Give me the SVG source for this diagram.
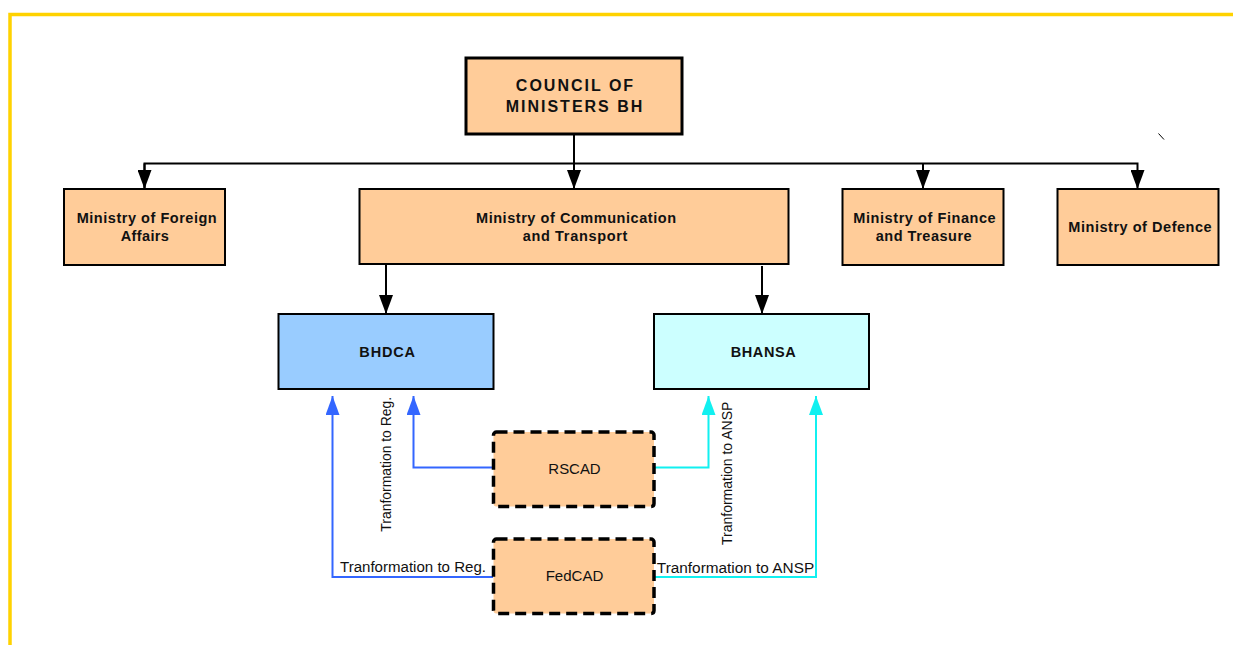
<svg xmlns="http://www.w3.org/2000/svg" width="1233" height="645" viewBox="0 0 1233 645">
<style>
.box{fill:#FFCC99;stroke:#000;stroke-width:2}
.dash{fill:#FFCC99;stroke:#000;stroke-width:3.5;stroke-dasharray:11 6}
.b{font-family:"Liberation Sans",Arial,sans-serif;font-weight:bold;font-size:14.5px;fill:#111;text-anchor:middle}
.r{font-family:"Liberation Sans",Arial,sans-serif;font-size:14px;fill:#111;text-anchor:middle}
.blk{fill:none;stroke:#000;stroke-width:2}
.blu{fill:none;stroke:#3366FF;stroke-width:2}
.cyn{fill:none;stroke:#11F0F0;stroke-width:2}
</style>
<defs>
<marker id="ak" markerUnits="userSpaceOnUse" markerWidth="19" markerHeight="14" refX="19" refY="7" orient="auto"><path d="M0,0 L19,7 L0,14 z" fill="#000"/></marker>
<marker id="ab" markerUnits="userSpaceOnUse" markerWidth="19" markerHeight="14" refX="19" refY="7" orient="auto"><path d="M0,0 L19,7 L0,14 z" fill="#3366FF"/></marker>
<marker id="ac" markerUnits="userSpaceOnUse" markerWidth="19" markerHeight="14" refX="19" refY="7" orient="auto"><path d="M0,0 L19,7 L0,14 z" fill="#11F0F0"/></marker>
</defs>
<rect width="1233" height="645" fill="#fff"/>
<path d="M10,645 V14.5 H1233" fill="none" stroke="#FFD200" stroke-width="3.5"/>
<line x1="1158.5" y1="133.5" x2="1164" y2="139.5" stroke="#000" stroke-width="1"/>

<g id="connectors">
<path class="blk" d="M574,134 V189" marker-end="url(#ak)"/>
<path class="blk" d="M144.5,189 V163.5 H1137.5 V189" marker-end="url(#ak)"/>
<path class="blk" d="M144.5,163.5 V189" marker-end="url(#ak)"/>
<path class="blk" d="M923,163.5 V189" marker-end="url(#ak)"/>
<path class="blk" d="M386,264 V314" marker-end="url(#ak)"/>
<path class="blk" d="M762,266 V314" marker-end="url(#ak)"/>
<path class="blu" d="M493,577 H332.5 V396" marker-end="url(#ab)"/>
<path class="blu" d="M493,467.5 H413.5 V396" marker-end="url(#ab)"/>
<path class="cyn" d="M654,467.5 H708.5 V396" marker-end="url(#ac)"/>
<path class="cyn" d="M654,577 H816 V396" marker-end="url(#ac)"/>
<text class="r" transform="translate(390.5,464.3) rotate(-90)" textLength="134.7" lengthAdjust="spacingAndGlyphs">Tranformation to Reg.</text>
<text class="r" transform="translate(731.5,473.3) rotate(-90)" textLength="143.3" lengthAdjust="spacingAndGlyphs">Tranformation to ANSP</text>
<text class="r" x="413" y="572" textLength="146" lengthAdjust="spacingAndGlyphs">Tranformation to Reg.</text>
<text class="r" x="735.5" y="572.5" textLength="157.3" lengthAdjust="spacingAndGlyphs">Tranformation to ANSP</text>
</g>

<g id="council">
<rect x="466" y="58" width="216" height="76" fill="#FFCC99" stroke="#000" stroke-width="3"/>
<text class="b" x="574.5" y="91" style="font-size:16px" textLength="117.3" lengthAdjust="spacing">COUNCIL OF</text>
<text class="b" x="574" y="112" style="font-size:16px" textLength="136.7" lengthAdjust="spacing">MINISTERS BH</text>
</g>

<g id="foreign">
<rect class="box" x="64" y="189" width="161" height="76"/>
<text class="b" x="146.7" y="223" textLength="140" lengthAdjust="spacing">Ministry of Foreign</text>
<text class="b" x="144.8" y="240.5" textLength="48.3" lengthAdjust="spacing">Affairs</text>
</g>

<g id="mct">
<rect class="box" x="359.5" y="189" width="429" height="75"/>
<text class="b" x="576" y="223" textLength="200" lengthAdjust="spacing">Ministry of Communication</text>
<text class="b" x="575" y="240.5" textLength="104.7" lengthAdjust="spacing">and Transport</text>
</g>

<g id="finance">
<rect class="box" x="842.5" y="189" width="161" height="76"/>
<text class="b" x="924.5" y="223" textLength="142.3" lengthAdjust="spacing">Ministry of Finance</text>
<text class="b" x="923.7" y="240.5" textLength="96" lengthAdjust="spacing">and Treasure</text>
</g>

<g id="defence">
<rect class="box" x="1057.5" y="189" width="161" height="76"/>
<text class="b" x="1140" y="231.5" textLength="143.3" lengthAdjust="spacing">Ministry of Defence</text>
</g>

<g id="bhdca">
<rect x="278.5" y="314" width="215" height="75" fill="#99CCFF" stroke="#000" stroke-width="2"/>
<text class="b" x="387.2" y="356.5" textLength="55.7" lengthAdjust="spacing">BHDCA</text>
</g>

<g id="bhansa">
<rect x="654" y="314" width="215" height="75" fill="#CCFFFF" stroke="#000" stroke-width="2"/>
<text class="b" x="763.2" y="356.5" textLength="65" lengthAdjust="spacing">BHANSA</text>
</g>

<g id="rscad">
<rect class="dash" x="493.5" y="432" width="160.5" height="74.5" rx="3"/>
<text class="r" x="574.5" y="473.5" textLength="52.3" lengthAdjust="spacingAndGlyphs">RSCAD</text>
</g>

<g id="fedcad">
<rect class="dash" x="493.5" y="539" width="160.5" height="74.5" rx="3"/>
<text class="r" x="574.5" y="581" textLength="57.7" lengthAdjust="spacingAndGlyphs">FedCAD</text>
</g>
</svg>
